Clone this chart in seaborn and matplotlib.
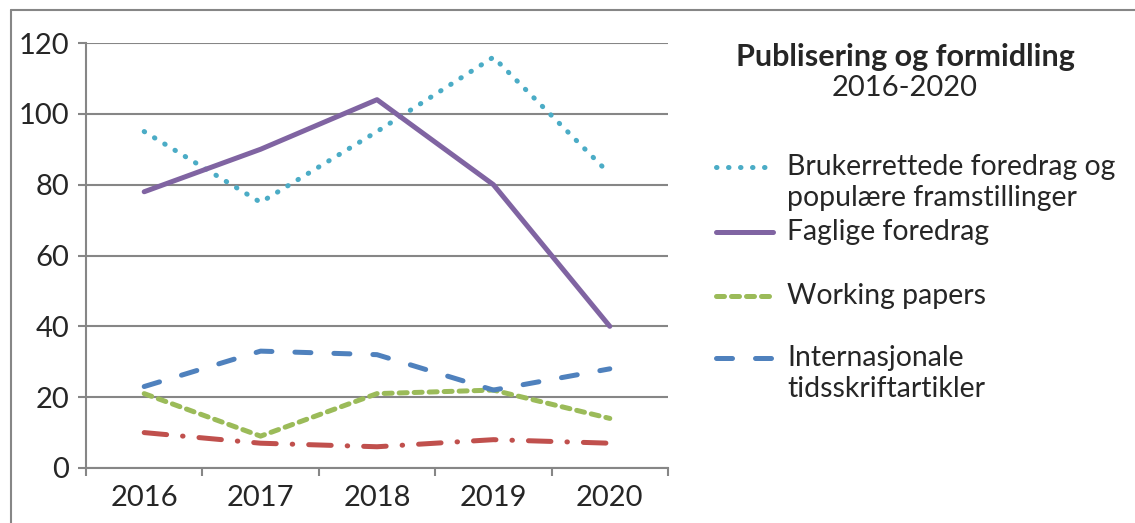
import matplotlib
matplotlib.use('Agg')
import matplotlib.pyplot as plt
import pandas as pd
import seaborn as sns
from matplotlib.lines import Line2D

# data
years = ['2016', '2017', '2018', '2019', '2020']
brukerrettede = [95, 75, 95, 116, 83]
faglige = [78, 90, 104, 80, 40]
working_papers = [21, 9, 21, 22, 14]
internasjonale = [23, 33, 32, 22, 28]
annet = [10, 7, 6, 8, 7]

names = ['Brukerrettede foredrag og\npopulære framstillinger', 'Faglige foredrag',
         'Working papers', 'Internasjonale\ntidsskriftartikler', 'Annet']
values = [brukerrettede, faglige, working_papers, internasjonale, annet]

rows = []
for n, v in zip(names, values):
    for i, y in enumerate(years):
        rows.append({'year': i, 'value': v[i], 'serie': n})
df = pd.DataFrame(rows)

sns.set_style('white')
plt.rcParams['font.family'] = ['Lato', 'DejaVu Sans']

colors = ['#4BACC6', '#8064A2', '#9BBB59', '#4F81BD', '#C0504D']
styles = [(0, (0.1, 2.3)), '-', (0, (1.6, 1.4)), (0, (3.2, 4.6)), (0, (4.5, 3.2, 0.1, 3.2))]

W, H = 1135, 523
fig = plt.figure(figsize=(W / 100, H / 100), dpi=100)
ax = fig.add_axes([86 / W, 1 - 468 / H, 582 / W, 425 / H])

for n, c, ls in zip(names, colors, styles):
    sub = df[df['serie'] == n]
    sns.lineplot(data=sub, x='year', y='value', ax=ax, color=c, linewidth=3.6,
                 solid_capstyle='round', dash_capstyle='round', legend=False)
    ax.lines[-1].set_linestyle(ls)

ax.set_xlim(-0.5, 4.5)
ax.set_ylim(0, 120)
ax.set_yticks(range(0, 121, 20))
ax.set_xticks(range(5))
ax.set_xticklabels(years)
ax.set_xticks([i - 0.5 for i in range(6)], minor=True)
ax.yaxis.grid(True, color='#868686', linewidth=1.5)
ax.set_axisbelow(True)
ax.set_xlabel('')
ax.set_ylabel('')
for s in ['top', 'right']:
    ax.spines[s].set_visible(False)
for s in ['left', 'bottom']:
    ax.spines[s].set_color('#868686')
    ax.spines[s].set_linewidth(1.5)
ax.tick_params(axis='y', which='major', length=6, width=1.5, color='#868686',
               labelsize=21, pad=6, left=True)
ax.tick_params(axis='x', which='major', length=0, labelsize=21, pad=12)
ax.tick_params(axis='x', which='minor', length=6, width=1.5, color='#868686', bottom=True)

# title block on the right
fig.text(905 / W, 1 - 57 / H, 'Publisering og formidling', ha='center', va='center',
         fontsize=22, fontweight='bold')
fig.text(905 / W, 1 - 88 / H, '2016-2020', ha='center', va='center', fontsize=21)

# legend entries (first line y positions and line spacing as in the original)
legend_lines = [['Brukerrettede foredrag og', 'populære framstillinger'],
                ['Faglige foredrag'],
                ['Working papers'],
                ['Internasjonale', 'tidsskriftartikler']]
legend_y = [167, 232, 296, 358]
for lines, yy, c, ls in zip(legend_lines, legend_y, colors, styles):
    fig.add_artist(Line2D([716 / W, 773 / W], [1 - yy / H, 1 - yy / H],
                          transform=fig.transFigure, color=c, linestyle=ls,
                          linewidth=3.6, solid_capstyle='round', dash_capstyle='round'))
    for k, t in enumerate(lines):
        fig.text(787 / W, 1 - (yy + 31 * k) / H, t, ha='left', va='center', fontsize=20.4)

# outer frame (top and left edges visible)
fig.add_artist(Line2D([11 / W, 1], [1 - 10 / H, 1 - 10 / H],
                      transform=fig.transFigure, color='#868686', linewidth=1.5))
fig.add_artist(Line2D([11 / W, 11 / W], [0, 1 - 10 / H],
                      transform=fig.transFigure, color='#868686', linewidth=1.5))

fig.savefig('out.png', dpi=100)
